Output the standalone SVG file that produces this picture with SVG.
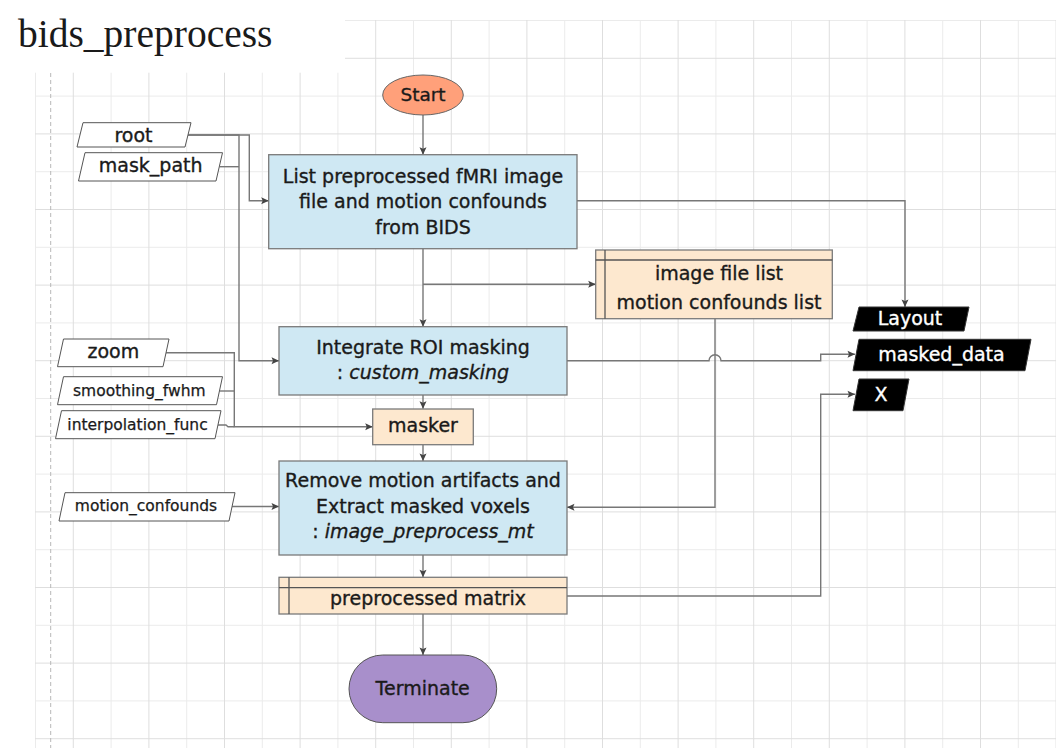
<svg xmlns="http://www.w3.org/2000/svg" width="1056" height="748" viewBox="0 0 1056 748">
<defs>
<pattern id="grid" x="35" y="20" width="75.6" height="75.6" patternUnits="userSpaceOnUse">
<path d="M0.5 0V75.6M0 0.5H75.6" stroke="#ebebeb" stroke-width="1" fill="none"/>
<path d="M38.3 0V75.6M0 38.3H75.6" stroke="#dedede" stroke-width="1" fill="none"/>
</pattern>
<marker id="arr" markerUnits="userSpaceOnUse" markerWidth="10" markerHeight="10" viewBox="0 0 10 10" refX="9" refY="5" orient="auto">
<path d="M1.5 1.5L9 5L1.5 8.5L3 5Z" fill="#444"/>
</marker>
</defs>
<style>
.t{font-family:"DejaVu Sans",sans-serif;font-size:19px;fill:#1a1a1a;stroke:#1a1a1a;stroke-width:0.35;text-anchor:middle}
.s{font-size:15.5px;stroke-width:0.25}
.w{fill:#ffffff;stroke:#ffffff}
.i{font-style:italic}
.proc{fill:#cfe8f3;stroke:#7a7a7a;stroke-width:1.3}
.data{fill:#fde8cf;stroke:#7a7a7a;stroke-width:1.3}
.in{fill:#ffffff;stroke:#555;stroke-width:1}
.out{fill:#000000;stroke:#333;stroke-width:1}
.c path{fill:none;stroke:#777;stroke-width:1.4}
.c .a{marker-end:url(#arr)}
</style>
<rect width="1056" height="748" fill="#ffffff"/>
<rect x="35" y="20" width="1021" height="728" fill="url(#grid)"/>
<rect x="0" y="0" width="345" height="72.7" fill="#ffffff"/>
<line x1="50.7" y1="73" x2="50.7" y2="748" stroke="#b8b8b8" stroke-width="1" stroke-dasharray="4 3"/>
<text x="18" y="46.7" style="font-family:'Liberation Serif',serif;font-size:39.5px;fill:#1a1a1a">bids_preprocess</text>

<g class="c" id="connectors">
<path class="a" d="M423 115V154.7"/>
<path class="a" d="M423 248.7V326.7"/>
<path class="a" d="M423 284.3H595.7"/>
<path class="a" d="M577 200.7H905V307"/>
<path class="a" d="M188 135H249.3V200.7H268.7"/>
<path class="a" d="M188 135H239V360.7H279"/>
<path d="M219.5 166.7H239"/>
<path class="a" d="M423 395V408.7"/>
<path class="a" d="M166 352.7H234.3V426.7H372.7"/>
<path d="M219.5 391H234.3"/>
<path d="M218 425H226L228 426.7H234.3"/>
<path class="a" d="M423 444.7V461"/>
<path class="a" d="M232 506.5H279"/>
<path class="a" d="M715 318.7V507.3H567"/>
<path class="a" d="M567 360.7H709A6 6 0 0 1 721 360.7H820.7V354.3H855"/>
<path class="a" d="M423 555V577.3"/>
<path class="a" d="M567 596H820.7V394.3H855"/>
<path class="a" d="M423 614V655"/>
</g>

<g id="start">
<ellipse cx="423" cy="95" rx="40.3" ry="20" fill="#ffa07a" stroke="#666" stroke-width="1"/>
<text class="t" x="423" y="101" style="font-size:18.5px">Start</text>
</g>

<g id="list-bids">
<rect class="proc" x="268.7" y="154.7" width="308.3" height="94"/>
<text class="t" x="423" y="182.7">List preprocessed fMRI image</text>
<text class="t" x="423" y="208.3">file and motion confounds</text>
<text class="t" x="423" y="234">from BIDS</text>
</g>

<g id="file-lists">
<rect class="data" x="595.7" y="250" width="236.6" height="68.7"/>
<line x1="595.7" y1="260" x2="832.3" y2="260" stroke="#555" stroke-width="1.3"/>
<line x1="605" y1="250" x2="605" y2="318.7" stroke="#555" stroke-width="1.3"/>
<text class="t" x="719" y="280">image file list</text>
<text class="t" x="719" y="308.7">motion confounds list</text>
</g>

<g id="roi-masking">
<rect class="proc" x="279" y="326.7" width="288" height="68.3"/>
<text class="t" x="423" y="354">Integrate ROI masking</text>
<text class="t" x="423" y="379.3">: <tspan class="i">custom_masking</tspan></text>
</g>

<g id="masker">
<rect class="data" x="372.7" y="409" width="100.6" height="35.7"/>
<text class="t" x="423" y="432.3">masker</text>
</g>

<g id="extract">
<rect class="proc" x="279" y="461" width="288" height="94"/>
<text class="t" x="423" y="486.7">Remove motion artifacts and</text>
<text class="t" x="423" y="512.7">Extract masked voxels</text>
<text class="t" x="423" y="538.3">: <tspan class="i">image_preprocess_mt</tspan></text>
</g>

<g id="matrix">
<rect class="data" x="279" y="577.3" width="288" height="36.7"/>
<line x1="279" y1="587.7" x2="567" y2="587.7" stroke="#555" stroke-width="1.3"/>
<line x1="289" y1="577.3" x2="289" y2="614" stroke="#555" stroke-width="1.3"/>
<text class="t" x="428" y="605">preprocessed matrix</text>
</g>

<g id="terminate">
<rect x="349" y="655" width="147.7" height="67.7" rx="33.8" fill="#a88fcb" stroke="#555" stroke-width="1"/>
<text class="t" x="422.7" y="695">Terminate</text>
</g>

<g id="in-root">
<polygon class="in" points="83,122.7 191,122.7 185,147 77,147"/>
<text class="t" x="133.5" y="141.7">root</text>
</g>
<g id="in-mask-path">
<polygon class="in" points="85,152.7 222.5,152.7 216,181 78.5,181"/>
<text class="t" x="150.7" y="172.3">mask_path</text>
</g>
<g id="in-zoom">
<polygon class="in" points="63.5,339 169,339 163,366.7 57.5,366.7"/>
<text class="t" x="113.3" y="357.5">zoom</text>
</g>
<g id="in-smoothing">
<polygon class="in" points="63.5,376.7 222.5,376.7 216.5,404.7 57.5,404.7"/>
<text class="t s" x="139.3" y="395.5">smoothing_fwhm</text>
</g>
<g id="in-interp">
<polygon class="in" points="61.5,410.7 221,410.7 215,438.7 55.5,438.7"/>
<text class="t s" x="137.5" y="429.5">interpolation_func</text>
</g>
<g id="in-motion">
<polygon class="in" points="65,492.7 235,492.7 229,521 59,521"/>
<text class="t s" x="146" y="511">motion_confounds</text>
</g>

<g id="out-layout">
<polygon class="out" points="859,307 969,307 964,331 853,331"/>
<text class="t w" x="910" y="324.5">Layout</text>
</g>
<g id="out-masked-data">
<polygon class="out" points="859,339.3 1031,339.3 1025,370.7 853,370.7"/>
<text class="t w" x="941.5" y="361">masked_data</text>
</g>
<g id="out-x">
<polygon class="out" points="859,379 909,379 903,410.7 853,410.7"/>
<text class="t w" x="881" y="401">X</text>
</g>
</svg>
